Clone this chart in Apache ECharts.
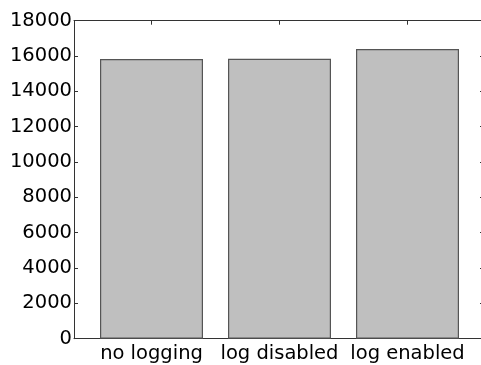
<!DOCTYPE html>
<html><head><meta charset="utf-8">
<script src="https://cdn.jsdelivr.net/npm/echarts@6/dist/echarts.min.js"></script>
<style>html,body{margin:0;padding:0;background:#fff}#c{width:481px;height:365px}</style>
</head><body><div id="c"></div>
<script>
var categories = ['no logging', 'log disabled', 'log enabled'];
var values = [15830, 15840, 16400];
var yMin = 0, yMax = 18000, yStep = 2000;

var chart = echarts.init(document.getElementById('c'), null, {renderer: 'canvas'});
var font = 'DejaVu Sans';
var lineCol = '#333';
chart.setOption({
  animation: false,
  grid: [
    {left: 74, top: 20.7, right: -3, height: 318, outerBoundsMode: 'none', containLabel: false},
    {left: 87.5, top: 20.7, width: 384, height: 318, outerBoundsMode: 'none', containLabel: false}
  ],
  xAxis: [
    {gridIndex: 0, type: 'value', min: 0, max: 1, position: 'bottom',
     axisLine: {show: true, onZero: false, lineStyle: {color: lineCol}}, axisTick: {show: false}, axisLabel: {show: false}, splitLine: {show: false}},
    {gridIndex: 0, type: 'value', min: 0, max: 1, position: 'top',
     axisLine: {show: true, onZero: false, lineStyle: {color: lineCol}}, axisTick: {show: false}, axisLabel: {show: false}, splitLine: {show: false}},
    {gridIndex: 1, type: 'category', data: categories, position: 'bottom',
     axisLine: {show: false, onZero: false},
     axisTick: {show: true, inside: true, length: 4, alignWithLabel: true, lineStyle: {color: lineCol}},
     axisLabel: {fontFamily: font, fontSize: 19.5, color: '#000', margin: 5, interval: 0}},
    {gridIndex: 1, type: 'category', data: categories, position: 'top',
     axisLine: {show: false, onZero: false},
     axisTick: {show: true, inside: true, length: 4, alignWithLabel: true, lineStyle: {color: lineCol}},
     axisLabel: {show: false}}
  ],
  yAxis: [
    {gridIndex: 0, type: 'value', min: yMin, max: yMax, interval: yStep, position: 'left',
     axisLine: {show: true, onZero: false, lineStyle: {color: lineCol}}, splitLine: {show: false},
     axisTick: {show: true, inside: true, length: 4, lineStyle: {color: lineCol}},
     axisLabel: {fontFamily: font, fontSize: 19.5, color: '#000', margin: 2, formatter: function (v) { return String(v); }}},
    {gridIndex: 1, type: 'value', min: yMin, max: yMax, interval: yStep, show: false},
    {gridIndex: 0, type: 'value', min: yMin, max: yMax, interval: yStep, position: 'right',
     axisLine: {show: false, onZero: false}, splitLine: {show: false}, axisLabel: {show: false},
     axisTick: {show: true, inside: true, length: 4, lineStyle: {color: lineCol}}}
  ],
  series: [{
    type: 'bar', xAxisIndex: 2, yAxisIndex: 1, data: values, barWidth: 103,
    itemStyle: {color: '#bfbfbf', borderColor: '#555', borderWidth: 1.2}
  }]
});
</script></body></html>
